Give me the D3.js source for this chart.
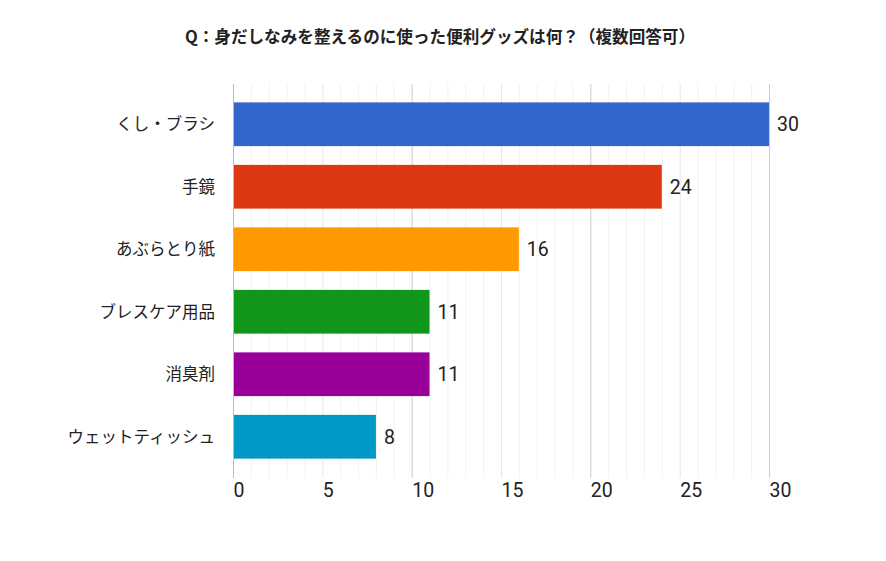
<!DOCTYPE html>
<html><head><meta charset="utf-8">
<script src="https://cdn.jsdelivr.net/npm/d3@7"></script>
<style>body{margin:0;background:#fff;}svg{display:block;}</style>
</head><body>
<script>
const title = "Q：身だしなみを整えるのに使った便利グッズは何？（複数回答可）";
const categories = ["くし・ブラシ","手鏡","あぶらとり紙","ブレスケア用品","消臭剤","ウェットティッシュ"];
const values = [30,24,16,11,11,8];
const colors = ["#3366cc","#dc3912","#ff9900","#109618","#990099","#0099c6"];
const tickValues = [0,5,10,15,20,25,30];

const W=886,H=561;
const svg=d3.select("body").append("svg").attr("width",W).attr("height",H);
const jp='"Noto Sans CJK JP","Noto Sans",sans-serif';
const num='Roboto,"Noto Sans",sans-serif';

const x=d3.scaleLinear().domain([0,30]).range([233,769]);
const y=d3.scaleBand().domain(categories).range([93,468]).paddingInner(0.3).paddingOuter(0.15);
const gTop=84,gBot=478;

// minor grid
svg.append("g").selectAll("line").data(d3.range(1,31).filter(v=>v%5!==0)).join("line")
 .attr("x1",d=>x(d)+0.5).attr("x2",d=>x(d)+0.5).attr("y1",gTop).attr("y2",gBot)
 .attr("stroke","#f2f2f2").attr("stroke-width",1);
svg.append("g").selectAll("line").data(tickValues.filter(v=>v%10!==0)).join("line")
 .attr("x1",d=>x(d)+0.5).attr("x2",d=>x(d)+0.5).attr("y1",gTop).attr("y2",gBot)
 .attr("stroke","#e6e6e6").attr("stroke-width",1);
svg.append("g").selectAll("line").data(tickValues.filter(v=>v%10===0)).join("line")
 .attr("x1",d=>x(d)+0.5).attr("x2",d=>x(d)+0.5).attr("y1",gTop).attr("y2",gBot)
 .attr("stroke",d=>d===0?"#bbbbbb":"#cccccc").attr("stroke-width",1);

// bars
svg.append("g").selectAll("rect").data(values).join("rect")
 .attr("x",x(0)+1).attr("y",(d,i)=>y(categories[i]))
 .attr("width",d=>x(d)-x(0)-1).attr("height",y.bandwidth())
 .attr("fill",(d,i)=>colors[i]);

// value labels
svg.append("g").selectAll("text").data(values).join("text")
 .attr("x",d=>x(d)+8).attr("y",(d,i)=>y(categories[i])+y.bandwidth()/2)
 .attr("dy","0.36em").attr("font-family",num).attr("font-size",19.5).attr("fill","#222")
 .text(d=>d);

// category labels
svg.append("g").selectAll("text").data(categories).join("text")
 .attr("x",215).attr("y",d=>y(d)+y.bandwidth()/2).attr("dy","0.35em")
 .attr("text-anchor","end").attr("font-family",jp).attr("font-size",16.5).attr("fill","#222")
 .text(d=>d);

// x axis labels
const ax=d3.axisBottom(x).tickValues(tickValues).tickSize(0).tickPadding(0);
const gx=svg.append("g").attr("transform","translate(0,497)").call(ax);
gx.select(".domain").remove();
gx.selectAll("text").attr("text-anchor","start").attr("dy",0).attr("y",0)
 .attr("font-family",num).attr("font-size",19.5).attr("fill","#222");

// title
svg.append("text").attr("x",440).attr("y",43).attr("text-anchor","middle")
 .attr("font-family",jp).attr("font-weight","bold").attr("font-size",16.6).attr("fill","#222")
 .text(title);
</script>
</body></html>
